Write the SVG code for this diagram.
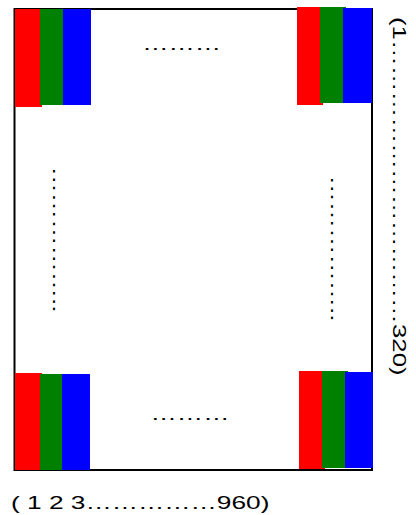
<svg xmlns="http://www.w3.org/2000/svg" width="416" height="515" viewBox="0 0 416 515">
<style>
.r{fill:#ff0000}.g{fill:#008000}.b{fill:#0000ff}
.t{font-family:"Liberation Sans",Arial,sans-serif;font-size:18px;fill:#000}
</style>
<rect width="416" height="515" fill="#fff"/>
<g id="frame"><rect x="14.5" y="9" width="357.5" height="461" fill="none" stroke="#000" stroke-width="2"/></g>
<g id="top-left">
<rect class="r" x="15" y="9" width="27" height="98"/>
<rect class="g" x="40" y="9" width="23" height="96"/>
<rect class="b" x="63" y="9" width="28" height="96"/>
</g>
<g id="top-right">
<rect class="r" x="297" y="7" width="26" height="98"/>
<rect class="g" x="320" y="7" width="26" height="96"/>
<rect class="b" x="343" y="8" width="29" height="95"/>
</g>
<g id="bottom-left">
<rect class="r" x="15" y="373" width="27" height="97"/>
<rect class="g" x="40" y="374" width="22" height="96"/>
<rect class="b" x="62" y="374" width="28" height="96"/>
</g>
<g id="bottom-right">
<rect class="r" x="299" y="371" width="26" height="98"/>
<rect class="g" x="322" y="371" width="26" height="97"/>
<rect class="b" x="345" y="372" width="28" height="96"/>
</g>
<g id="dots-top"><text class="t" transform="translate(142.3,50.2) scale(1.46,1)">&#8230;&#8230;&#8230;</text></g>
<g id="dots-bottom"><text class="t" transform="translate(150.6,420.2) scale(1.46,1)">&#8230;&#8230;&#8230;</text></g>
<g id="dots-left"><text class="t" transform="translate(52.8,166.6) rotate(90) scale(1.46,1)">&#8230;&#8230;&#8230;&#8230;&#8230;..</text></g>
<g id="dots-right"><text class="t" transform="translate(330.8,175.6) rotate(90) scale(1.46,1)">&#8230;&#8230;&#8230;&#8230;&#8230;..</text></g>
<g id="label-bottom"><text class="t" transform="translate(11,508.5) scale(1.46,1)">( 1 2 3&#8230;&#8230;&#8230;&#8230;&#8230;960)</text></g>
<g id="label-right"><text class="t" transform="translate(393,17) rotate(90) scale(1.435,1)">(1&#8230;&#8230;&#8230;&#8230;&#8230;&#8230;&#8230;&#8230;&#8230;&#8230;&#8230;320)</text></g>
</svg>
